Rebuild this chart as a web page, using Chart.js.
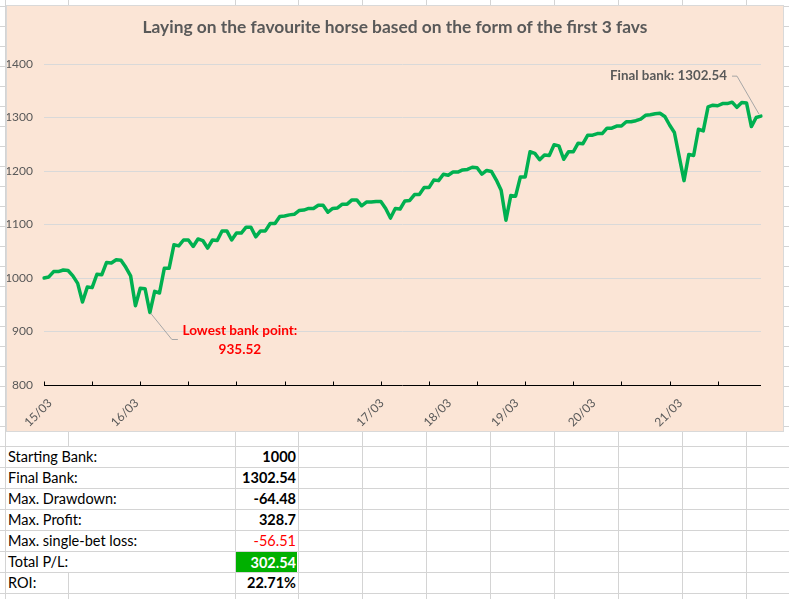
<!DOCTYPE html>
<html>
<head>
<meta charset="utf-8">
<script src="https://cdn.jsdelivr.net/npm/chart.js@4.4.1/dist/chart.umd.min.js"></script>
<style>
  body { margin: 0; width: 789px; height: 599px; overflow: hidden; background: #fff; position: relative; font-family: Lato, "Open Sans", sans-serif; }
  .gl { position: absolute; background: #d4d4d4; z-index: 0; }
  #box { position: absolute; left: 6px; top: 5px; width: 776px; height: 425px; border: 1px solid #d9d9d9; background: #fbe5d6; z-index: 2; }
  #box canvas { display: block; }
  .cell { position: absolute; height: 21px; line-height: 22px; font-size: 14.5px; color: #000; white-space: nowrap; z-index: 1; }
  .lab { left: 8px; }
  .val { left: 236px; width: 60px; text-align: right; font-weight: bold; }
</style>
</head>
<body>
<div id="box"><canvas id="chart" width="776" height="425"></canvas></div>
<script>
// bank balance after each bet
const bank = [
  1000, 1002, 1012, 1012, 1015, 1014, 1004, 990, 955, 983,
  982, 1007, 1006, 1029, 1028, 1034, 1033, 1020, 1004, 948,
  981, 980, 935.52, 975, 972, 1018, 1018, 1062, 1060, 1071,
  1071, 1059, 1073, 1070, 1056, 1071, 1070, 1088, 1088, 1071,
  1084, 1084, 1095, 1095, 1077, 1088, 1088, 1102, 1102, 1115,
  1116, 1118, 1119, 1126, 1127, 1130, 1130, 1136, 1136, 1123,
  1130, 1131, 1138, 1138, 1146, 1146, 1135, 1142, 1142, 1143,
  1143, 1130, 1112, 1130, 1129, 1144, 1145, 1156, 1156, 1169,
  1169, 1183, 1182, 1194, 1192, 1198, 1198, 1202, 1203, 1207,
  1206, 1194, 1201, 1199, 1183, 1164, 1108, 1154, 1153, 1189,
  1189, 1236, 1233, 1221, 1230, 1229, 1249, 1247, 1222, 1236,
  1236, 1252, 1251, 1267, 1267, 1270, 1270, 1280, 1280, 1284,
  1284, 1292, 1292, 1294, 1297, 1304, 1305, 1307, 1308, 1302,
  1286, 1272, 1227, 1182, 1231, 1229, 1278, 1275, 1320, 1323,
  1322, 1326, 1326, 1328.7, 1319, 1328, 1327, 1283, 1300, 1302.54
];
// first bet of each day
const dayLabels = ['15/03', '16/03', '17/03', '18/03', '19/03', '20/03', '21/03'];
const dayStart = [0, 18, 69, 83, 97, 113, 131];

const statLabels = ['Starting Bank:', 'Final Bank:', 'Max. Drawdown:', 'Max. Profit:', 'Max. single-bet loss:', 'Total P/L:', 'ROI:'];
const statValues = ['1000', '1302.54', '-64.48', '328.7', '-56.51', '302.54', '22.71%'];

const titleText = 'Laying on the favourite horse based on the form of the first 3 favs';

// spreadsheet grid
const colX = [5, 68, 235, 298, 362, 426, 490, 554, 618, 682, 746];
const rowY = [];
for (let y = 6; y <= 446; y += 20) rowY.push(y);
for (let k = 1; k <= 7; k++) rowY.push(446 + k * 21);

rowY.forEach(y => {
  const d = document.createElement('div');
  d.className = 'gl';
  d.style.cssText = `left:0;top:${y}px;width:789px;height:1px`;
  document.body.appendChild(d);
});
colX.forEach(x => {
  const parts = x === 68 ? [[0, 446], [572, 599]] : [[0, 599]];
  parts.forEach(([a, b]) => {
    const d = document.createElement('div');
    d.className = 'gl';
    d.style.cssText = `left:${x}px;top:${a}px;width:1px;height:${b - a}px`;
    document.body.appendChild(d);
  });
});

// stats table
statLabels.forEach((t, i) => {
  const top = 446 + i * 21;
  const l = document.createElement('div');
  l.className = 'cell lab';
  l.style.top = top + 'px';
  l.textContent = t;
  document.body.appendChild(l);
  const v = document.createElement('div');
  v.className = 'cell val';
  v.style.top = top + 'px';
  v.textContent = statValues[i];
  if (t === 'Max. single-bet loss:') { v.style.color = '#ff0000'; v.style.fontWeight = 'normal'; }
  if (t === 'Total P/L:') {
    v.style.background = '#00b000'; v.style.color = '#fff';
    v.style.left = '236px'; v.style.width = '60px'; v.style.paddingRight = '1px';
    v.style.top = (top + 1) + 'px'; v.style.height = '20px'; v.style.lineHeight = '21px';
  }
  document.body.appendChild(v);
});

const xLabels = bank.map((_, i) => {
  const k = dayStart.indexOf(i);
  return k >= 0 ? dayLabels[k] : '';
});

function fitFont(ctx, text, weight, family, width) {
  ctx.font = `${weight} 100px ${family}`;
  const w = ctx.measureText(text).width;
  return `${weight} ${(100 * width / w).toFixed(2)}px ${family}`;
}

const extras = {
  id: 'extras',
  afterDatasetsDraw(chart) {
    const ctx = chart.ctx;
    const xs = chart.scales.x;
    const area = chart.chartArea;
    ctx.save();

    // axis line and inside tick marks
    ctx.strokeStyle = '#000';
    ctx.lineWidth = 1;
    ctx.beginPath();
    const yb = Math.round(area.bottom) + 0.5;
    ctx.moveTo(area.left, yb);
    ctx.lineTo(area.right, yb);
    for (let i = 0; i < bank.length; i += 10) {
      const px = Math.round(xs.getPixelForValue(i)) + 0.5;
      ctx.moveTo(px, yb);
      ctx.lineTo(px, yb - 4);
    }
    ctx.stroke();

    // title
    ctx.fillStyle = '#595959';
    ctx.textAlign = 'center';
    ctx.textBaseline = 'alphabetic';
    ctx.font = fitFont(ctx, titleText, 'bold', 'Lato', 505);
    ctx.fillText(titleText, chart.width / 2, 27);

    const pts = chart.getDatasetMeta(0).data;
    let lowIdx = 0;
    bank.forEach((v, i) => { if (v < bank[lowIdx]) lowIdx = i; });
    const lo = pts[lowIdx];
    const fin = pts[bank.length - 1];

    // leader lines
    ctx.strokeStyle = '#a6a6a6';
    ctx.beginPath();
    ctx.moveTo(fin.x - 29, fin.y - 40);
    ctx.lineTo(fin.x - 24, fin.y - 40);
    ctx.lineTo(fin.x - 2, fin.y - 2);
    ctx.moveTo(lo.x + 1, lo.y + 1);
    ctx.lineTo(lo.x + 22, lo.y + 27);
    ctx.lineTo(lo.x + 28, lo.y + 27);
    ctx.stroke();

    // final bank label
    const finText = 'Final bank: ' + bank[bank.length - 1].toFixed(2);
    ctx.textAlign = 'right';
    ctx.fillStyle = '#595959';
    ctx.font = fitFont(ctx, finText, 'bold', 'Lato', 117);
    ctx.fillText(finText, fin.x - 34, fin.y - 36);

    // lowest point label
    ctx.textAlign = 'center';
    ctx.fillStyle = '#ff0000';
    ctx.font = fitFont(ctx, 'Lowest bank point:', 'bold', 'Lato', 115);
    ctx.fillText('Lowest bank point:', lo.x + 90, lo.y + 23);
    ctx.fillText(bank[lowIdx].toFixed(2), lo.x + 90, lo.y + 42);

    ctx.restore();
  }
};

new Chart(document.getElementById('chart'), {
  type: 'line',
  data: {
    labels: xLabels,
    datasets: [{
      data: bank,
      borderColor: '#00b050',
      borderWidth: 3.5,
      pointRadius: 0,
      tension: 0,
      borderJoinStyle: 'round',
      borderCapStyle: 'round'
    }]
  },
  options: {
    responsive: false,
    animation: false,
    devicePixelRatio: 1,
    layout: { padding: { top: 58, right: 22, left: 0, bottom: 0 } },
    plugins: { legend: { display: false }, tooltip: { enabled: false } },
    scales: {
      x: {
        grid: { display: false },
        border: { display: false },
        ticks: {
          autoSkip: false, maxRotation: 45, minRotation: 45,
          color: '#595959', font: { family: 'Lato', size: 12 },
          padding: 3, labelOffset: 6
        },
        afterFit(s) { s.height = 46; }
      },
      y: {
        min: 800, max: 1400,
        ticks: { stepSize: 100, color: '#595959', font: { family: 'Lato', size: 12 }, padding: 11, callback: v => String(v) },
        grid: { color: c => c.tick && c.tick.value === 800 ? 'rgba(0,0,0,0)' : '#d9d9d9', drawTicks: false },
        border: { display: false },
        afterFit(s) { s.width = 37; }
      }
    }
  },
  plugins: [extras]
});
</script>
</body>
</html>
